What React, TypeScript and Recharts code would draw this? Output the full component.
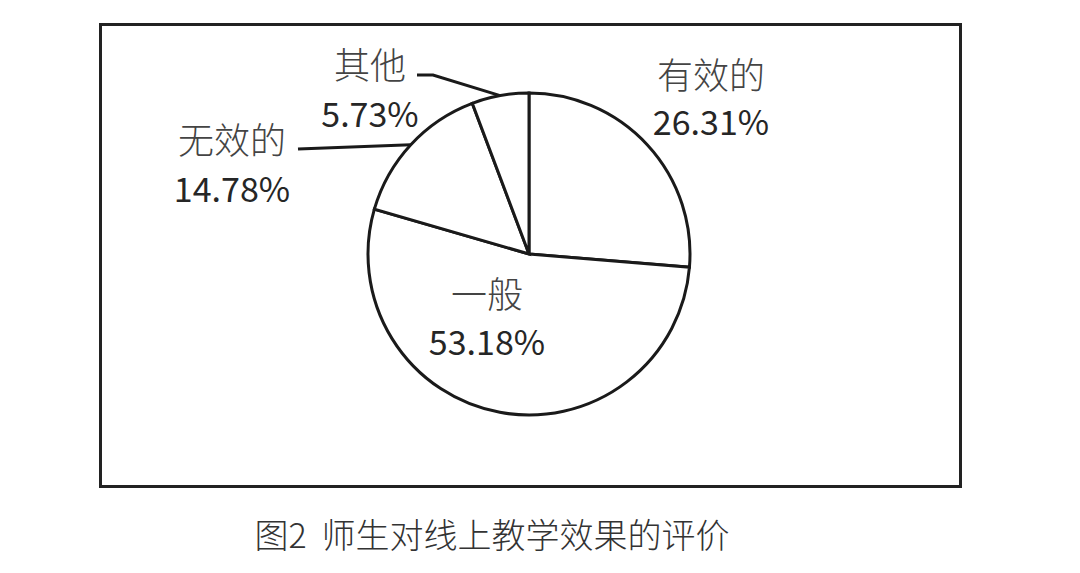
import { Pie, PieChart } from "recharts"

const categories = ["有效的", "一般", "无效的", "其他"]
const shares = [26.31, 53.18, 14.78, 5.73]
const caption = "图2  师生对线上教学效果的评价"

const data = categories.map((name, i) => ({ name, value: shares[i] }))

// label placement relative to the pie centre (px)
const labelLayout = [
  { dx: 182, nameDy: -181, valueDy: -134 },
  { dx: -42, nameDy: 38, valueDy: 86 },
  { dx: -297, nameDy: -116, valueDy: -67, lineEnd: [-231, -105] },
  { dx: -159, nameDy: -191, valueDy: -142, elbow: [-96, -179], lineEnd: [-112, -179] },
]

const RADIAN = Math.PI / 180
const textFont = "'Noto Sans CJK SC', 'Noto Sans', sans-serif"

function renderLabel(props: any) {
  const { cx, cy, midAngle, outerRadius, index } = props
  const lay = labelLayout[index]
  const x = cx + lay.dx
  let leader = null
  if (lay.lineEnd) {
    const ex = cx + outerRadius * Math.cos(-midAngle * RADIAN)
    const ey = cy + outerRadius * Math.sin(-midAngle * RADIAN)
    const pts = [[ex, ey]]
    if (lay.elbow) pts.push([cx + lay.elbow[0], cy + lay.elbow[1]])
    pts.push([cx + lay.lineEnd[0], cy + lay.lineEnd[1]])
    leader = (
      <polyline
        points={pts.map((p) => p.join(",")).join(" ")}
        fill="none"
        stroke="#1a1a1a"
        strokeWidth={3}
      />
    )
  }
  return (
    <g key={`lbl-${index}`}>
      {leader}
      <text x={x} y={cy + lay.nameDy} textAnchor="middle" dominantBaseline="central"
        fontFamily={textFont} fontSize={36} fontWeight={300} fill="#444">
        {categories[index]}
      </text>
      <text x={x} y={cy + lay.valueDy} textAnchor="middle" dominantBaseline="central"
        fontFamily={textFont} fontSize={34} fill="#262626">
        {shares[index].toFixed(2)}%
      </text>
    </g>
  )
}

export default function App() {
  return (
    <div style={{ position: "absolute", left: 0, top: 0, width: 1080, height: 573, background: "#fff" }}>
      <div
        style={{
          position: "absolute",
          left: 99,
          top: 23,
          width: 857,
          height: 459,
          border: "3px solid #222",
        }}
      />
      <div style={{ position: "absolute", left: 0, top: 0 }}>
        <PieChart width={1080} height={573} margin={{ top: 0, right: 0, bottom: 0, left: 0 }}>
          <Pie
            data={data}
            dataKey="value"
            nameKey="name"
            cx={529}
            cy={254}
            outerRadius={161}
            startAngle={90}
            endAngle={-270}
            fill="#fff"
            stroke="#1a1a1a"
            strokeWidth={3}
            label={renderLabel}
            labelLine={false}
            isAnimationActive={false}
          />
        </PieChart>
      </div>
      <div
        style={{
          position: "absolute",
          left: 0,
          width: 984,
          top: 512,
          textAlign: "center",
          fontFamily: textFont,
          fontSize: 34,
          fontWeight: 300,
          color: "#333",
          lineHeight: "44px",
          whiteSpace: "pre",
        }}
      >
        {caption}
      </div>
    </div>
  )
}
